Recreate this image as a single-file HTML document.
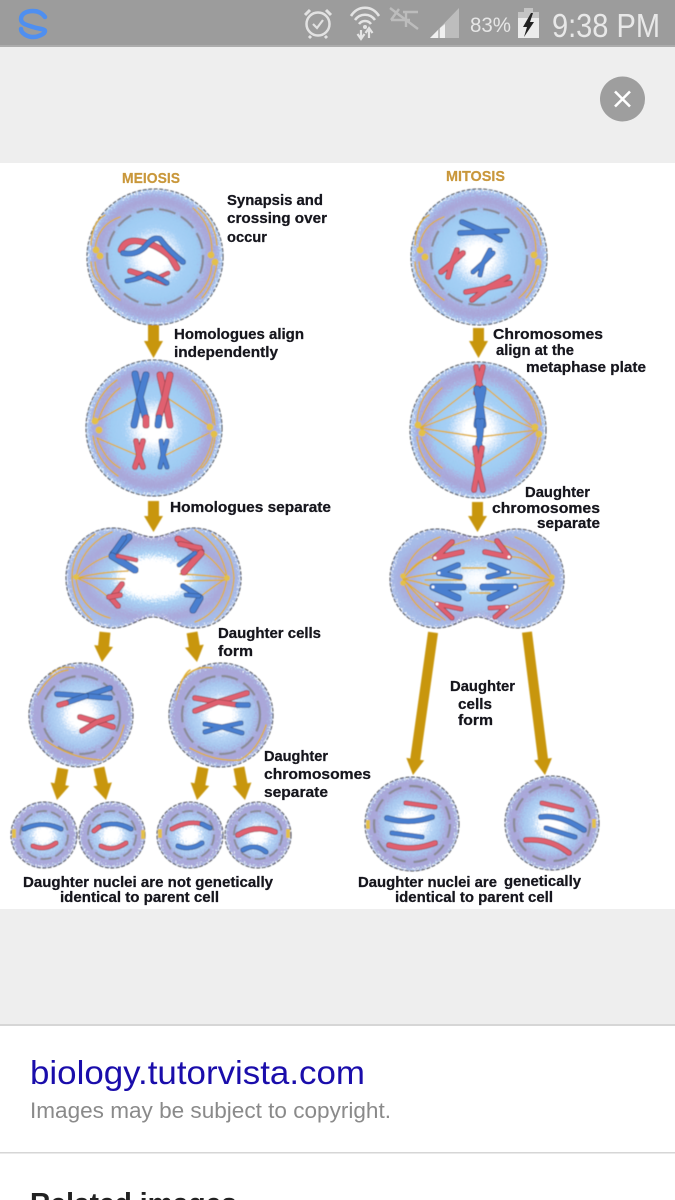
<!DOCTYPE html>
<html>
<head>
<meta charset="utf-8">
<style>
html,body{margin:0;padding:0;background:#fff}
body{width:675px;height:1200px;overflow:hidden;position:relative}
svg{position:absolute;left:0;top:0;display:block}
.t{font-family:"Liberation Sans",sans-serif;font-weight:bold;font-size:15px;fill:#14141c;stroke:#14141c;stroke-width:.25}
.g{font-family:"Liberation Sans",sans-serif;font-weight:bold;font-size:15px;fill:#c9973a;stroke:#c9973a;stroke-width:.2}
.w{fill:none;stroke:#8a8b96;stroke-width:2.2;stroke-dasharray:17 6}
.w2{fill:none;stroke:#8a8b96;stroke-width:1.9;stroke-dasharray:11 4}
.f{stroke:#e2ebf7;stroke-width:1;filter:url(#sp)}
.e{fill:none;stroke:#45454a;stroke-width:1;stroke-dasharray:4 1.5}
.s{fill:none;stroke:#dfae2f;stroke-width:1.4;stroke-linecap:round}
.r{fill:none;stroke:#e0606f;stroke-width:4.6;stroke-linecap:round;stroke-linejoin:round;filter:url(#ol)}
.b{fill:none;stroke:#4a7fd0;stroke-width:4.6;stroke-linecap:round;stroke-linejoin:round;filter:url(#ol)}
.rt{stroke-width:3.4}
.th{stroke-width:6}
.pole{fill:#e3c04a}
.arr{fill:#c8960b}
</style>
</head>
<body>
<svg width="675" height="1200" viewBox="0 0 675 1200" xmlns="http://www.w3.org/2000/svg">
<defs>
<radialGradient id="cell">
<stop offset="0" stop-color="#ffffff"/>
<stop offset=".2" stop-color="#ffffff"/>
<stop offset=".34" stop-color="#cfe4fa"/>
<stop offset=".43" stop-color="#a6d0f5"/>
<stop offset=".66" stop-color="#9ecbf2"/>
<stop offset=".74" stop-color="#aab2e2"/>
<stop offset=".84" stop-color="#a9a4d6"/>
<stop offset=".92" stop-color="#a8b2e4"/>
<stop offset="1" stop-color="#a8d4f6"/>
</radialGradient>
<radialGradient id="cell2">
<stop offset="0" stop-color="#ffffff"/>
<stop offset=".24" stop-color="#ffffff"/>
<stop offset=".42" stop-color="#b8d6f6"/>
<stop offset=".62" stop-color="#a6c6ee"/>
<stop offset=".76" stop-color="#aaa8da"/>
<stop offset=".92" stop-color="#a9a6d8"/>
<stop offset="1" stop-color="#a8cdf0"/>
</radialGradient>
<radialGradient id="db">
<stop offset="0" stop-color="#ffffff"/>
<stop offset=".38" stop-color="#ffffff"/>
<stop offset=".5" stop-color="#a9d2f5"/>
<stop offset=".62" stop-color="#a8c4ec"/>
<stop offset=".8" stop-color="#aaa7d9"/>
<stop offset="1" stop-color="#a6bce8"/>
</radialGradient>
<radialGradient id="db2">
<stop offset="0" stop-color="#ffffff"/>
<stop offset=".14" stop-color="#f2f8fe"/>
<stop offset=".34" stop-color="#a8d0f4"/>
<stop offset=".6" stop-color="#a6c4ec"/>
<stop offset=".82" stop-color="#aaa7d9"/>
<stop offset="1" stop-color="#a6bce8"/>
</radialGradient>
<filter id="soft" filterUnits="userSpaceOnUse" x="0" y="160" width="675" height="750"><feGaussianBlur stdDeviation="0.5"/></filter>
<filter id="softT" filterUnits="userSpaceOnUse" x="0" y="160" width="675" height="750"><feGaussianBlur stdDeviation="0.3"/></filter>
<filter id="sp" filterUnits="userSpaceOnUse" x="0" y="160" width="675" height="750" color-interpolation-filters="sRGB">
<feTurbulence type="fractalNoise" baseFrequency=".7" numOctaves="2" seed="3" result="n"/>
<feDisplacementMap in="SourceGraphic" in2="n" scale="16" xChannelSelector="R" yChannelSelector="G" result="d"/>
<feComposite in="d" in2="SourceAlpha" operator="in"/>
</filter>
<filter id="ol" filterUnits="userSpaceOnUse" x="0" y="160" width="675" height="750" color-interpolation-filters="sRGB">
<feMorphology in="SourceGraphic" operator="dilate" radius=".7" result="m"/>
<feColorMatrix in="m" type="matrix" values=".62 0 0 0 0 0 .62 0 0 0 0 0 .62 0 0 0 0 0 1 0" result="dk"/>
<feMerge><feMergeNode in="dk"/><feMergeNode in="SourceGraphic"/></feMerge>
</filter>
</defs>

<!-- page backgrounds -->
<rect x="0" y="0" width="675" height="1200" fill="#ffffff"/>
<rect x="0" y="47" width="675" height="116" fill="#eeeeee"/>
<rect x="0" y="909" width="675" height="116" fill="#eeeeee"/>
<rect x="0" y="0" width="675" height="46" fill="#9c9c9c"/>
<rect x="0" y="45" width="675" height="2" fill="#acacac"/>
<rect x="0" y="1024" width="675" height="2" fill="#d6d6d6"/>
<rect x="0" y="1152" width="675" height="1.5" fill="#d6d6d6"/>

<!-- status bar -->
<path d="M45 17 C42 13 38 11 33 11 C26 11 21 14 21 19 C21 24 27 25 33 27 C39 29 45 29 45 31 C45 34 38 37 33 37 C27 37 21 33 21 29" fill="none" stroke="#4f8ff0" stroke-width="4.500" stroke-linecap="round"/>
<circle cx="318" cy="24" r="11.500" fill="none" stroke="#e2e2e2" stroke-width="2.500"/>
<path d="M313 24 L317 28 L323 20" fill="none" stroke="#e2e2e2" stroke-width="2.200"/>
<path d="M305 15 L310 10 M331 15 L326 10 M311 36 L309 38 M325 36 L327 38" stroke="#e2e2e2" stroke-width="3" fill="none"/>
<path d="M351 16 C358 5 372 5 379 16 M355 20 C360 13 370 13 375 20 M359 24 C362 20 368 20 371 24" fill="none" stroke="#e4e4e4" stroke-width="2.600"/>
<circle cx="365" cy="27" r="2" fill="#e4e4e4"/>
<path d="M361 30 V37 M357.500 34 L361 39 L364.500 34 M369 38 V30 M365.500 33 L369 28 L372.500 33" fill="none" stroke="#e4e4e4" stroke-width="2.200"/>
<path d="M390 8 L418 29 M403 12 H418 M391 20 H410 M399 9 L391 20 M406 13 V27" fill="none" stroke="#bcbcbc" stroke-width="2.400"/>
<path d="M459 8 V38 H430 Z" fill="#bdbdbd"/>
<path d="M430 38 L438 30 V38 Z M440 28 L445 24 V38 H440 Z" fill="#f0f0f0"/>
<text x="470" y="32" font-family="'Liberation Sans',sans-serif" font-size="21" fill="#e6e6e6" textLength="41" lengthAdjust="spacingAndGlyphs">83%</text>
<rect x="524" y="8" width="9" height="4" fill="#c4c4c4"/>
<rect x="518" y="12" width="21" height="6" fill="#c4c4c4"/>
<rect x="518" y="18" width="21" height="20" fill="#ececec"/>
<path d="M531 13 L523 27 H527 L524 37 L534 22 H530 L533 13 Z" fill="#222"/>
<text x="552" y="37" font-family="'Liberation Sans',sans-serif" font-size="33" fill="#e8e8e8" textLength="108" lengthAdjust="spacingAndGlyphs">9:38 PM</text>

<!-- close -->
<circle cx="622.500" cy="99" r="22.500" fill="#9e9e9e"/>
<path d="M615 91.500 L630 106.500 M630 91.500 L615 106.500" stroke="#ffffff" stroke-width="2.600" fill="none"/>

<g filter="url(#soft)">
<!-- MEIOSIS 1 -->
<circle cx="155" cy="257" r="68" fill="url(#cell)" class="f"/><circle cx="155" cy="257" r="68" class="e"/>
<circle cx="155" cy="257" r="48" class="w"/>
<g class="s">
<path d="M95 250 Q97 225 120 217"/><path d="M91 245 Q92 222 105 215"/><path d="M95 262 Q97 285 120 300"/><path d="M91 262 Q92 280 105 285"/>
<path d="M212 252 Q212 225 193 208"/><path d="M217 245 Q215 222 198 208"/><path d="M212 265 Q210 285 195 298"/><path d="M217 262 Q215 282 202 298"/>
</g>
<circle cx="96" cy="250" r="3.500" class="pole"/><circle cx="100" cy="256" r="3.500" class="pole"/><circle cx="211" cy="255" r="3.500" class="pole"/><circle cx="215" cy="262" r="3.500" class="pole"/>
<path class="r" style="stroke-width:5.500" d="M121 250 Q125 240 137 241 Q155 243 170 256 L177 268"/>
<path class="b" d="M123 253 Q135 256 145 247 Q153 236 160 239 Q170 252 183 262"/>
<path class="r" d="M130 271 Q150 277 166 283"/><path class="r rt" d="M155 279 L168 273"/>
<path class="b" style="stroke-width:3.800" d="M127 281 Q140 279 148 273 Q158 277 167 283"/>

<!-- MEIOSIS 2 -->
<circle cx="154" cy="428" r="68" fill="url(#cell)" class="f"/><circle cx="154" cy="428" r="68" class="e"/>
<g class="s">
<path d="M95 422 L140 397"/><path d="M97 438 L137 455"/><path d="M211 427 L166 397"/><path d="M209 433 L166 455"/>
<path d="M93 420 Q96 395 117 380"/><path d="M98 421 Q106 398 120 388"/><path d="M93 436 Q97 462 118 476"/><path d="M97 438 Q105 460 120 468"/>
<path d="M213 423 Q210 395 192 380"/><path d="M215 425 Q213 400 205 390"/><path d="M213 437 Q208 462 192 476"/><path d="M215 438 Q212 458 202 468"/>
</g>
<circle cx="95" cy="421" r="3.500" class="pole"/><circle cx="99" cy="430" r="3.500" class="pole"/><circle cx="210" cy="427" r="3.500" class="pole"/><circle cx="214" cy="434" r="3.500" class="pole"/>
<path class="b th" d="M135 374 L140 397 L134 425"/><path class="b th" d="M146 375 L140 397 L145 416"/><path class="r th" d="M146 418 L146 425"/>
<path class="r th" d="M160 375 L165 397 L170 425"/><path class="r th" d="M170 375 L165 397 L159 416"/><path class="b th" d="M159 418 L158 425"/>
<path class="r" d="M136 441 L139 455 L135 467 M143 441 L139 455 L143 467"/>
<path class="b" style="stroke-width:3.800" d="M161 441 L163 455 L160 467 M167 441 L163 455 L167 467"/>

<!-- MEIOSIS dumbbell -->
<path d="M153 537 C140 537 130 528 113 528 C87 528 66 550 66 578 C66 606 87 628 113 628 C130 628 140 617 153 617 C166 617 177 628 194 628 C220 628 241 606 241 578 C241 550 220 528 194 528 C177 528 166 537 153 537 Z" fill="url(#db)" class="f"/>
<path d="M153 537 C140 537 130 528 113 528 C87 528 66 550 66 578 C66 606 87 628 113 628 C130 628 140 617 153 617 C166 617 177 628 194 628 C220 628 241 606 241 578 C241 550 220 528 194 528 C177 528 166 537 153 537 Z" class="e"/>
<g class="s">
<path d="M76 578 Q82 545 112 532"/><path d="M76 578 Q92 560 112 555"/><path d="M76 578 Q100 572 128 571"/><path d="M76 578 L125 579"/><path d="M76 578 Q95 585 108 597"/><path d="M76 578 Q80 610 110 618"/><path d="M72 578 Q72 550 95 534"/><path d="M72 578 Q74 605 92 620"/>
<path d="M227 578 Q222 545 195 530"/><path d="M227 578 Q215 560 202 552"/><path d="M227 578 Q205 575 180 574"/><path d="M227 580 L185 581"/><path d="M227 578 Q215 585 200 597"/><path d="M227 578 Q222 612 195 622"/><path d="M234 578 Q232 550 212 534"/><path d="M234 578 Q232 605 215 620"/>
</g>
<circle cx="76" cy="577" r="3" class="pole"/><circle cx="227" cy="578" r="3" class="pole"/>
<path class="b th" d="M113 554 L129 537"/><path class="b" d="M112 555 L124 538"/><path class="b th" d="M112 556 L135 570"/><path class="r rt" d="M118 556 L136 560"/>
<path class="r" d="M112 597 L122 584"/><path class="r" d="M110 597 L118 606"/><path class="r" d="M109 597 L120 595"/>
<path class="r th" d="M201 552 L178 539"/><path class="r" d="M200 548 L180 544"/><path class="r th" d="M201 553 L184 572"/><path class="b rt" d="M195 553 L179 565"/>
<path class="b" d="M200 597 L183 586"/><path class="b th" d="M200 598 L193 610"/><path class="b rt" d="M199 596 L186 595"/>

<!-- Meiosis daughters -->
<circle cx="81" cy="715" r="52" fill="url(#cell2)" class="f"/><circle cx="81" cy="715" r="52" class="e"/>
<circle cx="81" cy="715" r="39" class="w"/>
<g class="s">
<path d="M100 760 Q70 758 45 740"/><path d="M102 760 Q118 750 124 725"/><path d="M68 670 Q50 672 38 695"/><path d="M74 668 Q60 665 50 675"/>
</g>
<path class="b" d="M57 694 L86 696 L110 688"/><path class="b" d="M86 696 L110 698"/><path class="b" d="M86 696 L66 703"/><path class="r" d="M66 703 L59 705"/>
<path class="r" d="M80 717 L97 722 L113 727"/><path class="r" d="M82 731 L97 722 L112 717"/>

<circle cx="221" cy="715" r="52" fill="url(#cell2)" class="f"/><circle cx="221" cy="715" r="52" class="e"/>
<circle cx="221" cy="715" r="39" class="w"/>
<g class="s">
<path d="M240 760 Q215 762 190 748"/><path d="M240 760 Q258 750 266 725"/><path d="M190 670 Q182 675 176 700"/><path d="M212 668 Q195 665 182 680"/>
</g>
<path class="r" d="M195 698 L218 702 L247 693"/><path class="r" d="M195 711 L218 702 L238 705"/><path class="b" d="M238 705 L248 705"/>
<path class="b" style="stroke-width:3.800" d="M205 724 L222 727 L241 723 M205 732 L222 727 L242 733"/>

<!-- small cells -->
<circle cx="44" cy="835" r="33" fill="url(#cell2)" class="f"/><circle cx="44" cy="835" r="33" class="e"/><circle cx="44" cy="835" r="24" class="w2"/>
<path class="b" style="stroke-width:3.800" d="M24 829 Q43 820 61 829"/><path class="r" style="stroke-width:3.800" d="M33 846 Q45 851 56 843"/>
<rect x="12" y="829" width="4" height="9" fill="#e3c04a"/>
<circle cx="112" cy="835" r="33" fill="url(#cell2)" class="f"/><circle cx="112" cy="835" r="33" class="e"/><circle cx="112" cy="835" r="24" class="w2"/>
<path class="b" style="stroke-width:3.800" d="M99 827 Q115 820 131 829"/><path class="r" style="stroke-width:3.800" d="M94 831 L99 827"/><path class="r" style="stroke-width:3.800" d="M101 846 Q113 852 126 843"/>
<rect x="141" y="830" width="4" height="9" fill="#e3c04a"/>
<circle cx="190" cy="835" r="33" fill="url(#cell2)" class="f"/><circle cx="190" cy="835" r="33" class="e"/><circle cx="190" cy="835" r="24" class="w2"/>
<path class="r" style="stroke-width:3.800" d="M172 829 Q188 820 202 824"/><path class="b" style="stroke-width:3.800" d="M202 824 L210 828"/><path class="b" style="stroke-width:3.800" d="M178 846 Q190 851 202 843"/>
<rect x="158" y="829" width="4" height="9" fill="#e3c04a"/>
<circle cx="258" cy="835" r="33" fill="url(#cell2)" class="f"/><circle cx="258" cy="835" r="33" class="e"/><circle cx="258" cy="835" r="24" class="w2"/>
<path class="r" d="M238 835 Q256 824 275 832"/><path class="b" style="stroke-width:3.800" d="M243 850 Q255 843 266 852"/>
<rect x="286" y="829" width="4" height="9" fill="#e3c04a"/>

<!-- MITOSIS 1 -->
<circle cx="479" cy="257" r="68" fill="url(#cell)" class="f"/><circle cx="479" cy="257" r="68" class="e"/>
<circle cx="479" cy="257" r="48" class="w"/>
<g class="s">
<path d="M419 250 Q421 225 444 217"/><path d="M415 245 Q416 222 429 215"/><path d="M419 262 Q421 285 444 300"/><path d="M415 262 Q416 280 429 285"/>
<path d="M536 252 Q536 225 517 208"/><path d="M541 245 Q539 222 522 208"/><path d="M536 265 Q534 285 519 298"/><path d="M541 262 Q539 282 526 298"/>
</g>
<circle cx="420" cy="250" r="3.500" class="pole"/><circle cx="425" cy="257" r="3.500" class="pole"/><circle cx="534" cy="255" r="3.500" class="pole"/><circle cx="538" cy="262" r="3.500" class="pole"/>
<path class="b" d="M462 222 L485 232 L507 231 M460 233 L485 232 L500 240"/>
<path class="r" d="M463 253 L452 263 L441 272 M457 250 L452 263 L448 277"/>
<path class="b" style="stroke-width:3.800" d="M493 253 L483 263 L473 272 M490 250 L483 263 L480 275"/>
<path class="r" d="M508 277 L487 288 L466 292 M510 283 L487 288 L472 300"/>

<!-- MITOSIS 2 -->
<circle cx="478" cy="430" r="68" fill="url(#cell)" class="f"/><circle cx="478" cy="430" r="68" class="e"/>
<g class="s">
<path d="M420 428 L479 382"/><path d="M420 428 L480 405"/><path d="M420 428 L479 437"/><path d="M420 428 L478 468"/><path d="M537 430 L479 382"/><path d="M537 430 L480 405"/><path d="M537 430 L479 437"/><path d="M537 430 L478 468"/>
<path d="M417 422 Q419 395 440 380"/><path d="M421 420 Q428 400 442 388"/><path d="M417 437 Q420 462 440 476"/><path d="M421 438 Q430 460 442 468"/>
<path d="M538 422 Q534 395 516 380"/><path d="M541 425 Q538 400 525 390"/><path d="M538 437 Q534 462 516 476"/><path d="M541 438 Q536 458 524 468"/>
</g>
<circle cx="418" cy="425" r="3.500" class="pole"/><circle cx="422" cy="433" r="3.500" class="pole"/><circle cx="535" cy="427" r="3.500" class="pole"/><circle cx="539" cy="434" r="3.500" class="pole"/>
<path class="r" d="M476 367 L479 382 L483 367 M476 393 L479 382 L483 393"/>
<path class="b th" d="M477 389 L480 405 L483 389 M477 425 L480 405 L483 425"/>
<path class="b" d="M478 421 L480 440 M482 421 L480 440 M476 456 L479 440 M481 456 L479 440"/>
<path class="r" d="M475 448 L478 468 L482 448 M474 490 L478 468 L483 490"/>

<!-- MITOSIS dumbbell -->
<path d="M477 537 C464 537 454 529 437 529 C411 529 390 551 390 579 C390 606 411 628 437 628 C454 628 464 617 477 617 C490 617 500 628 517 628 C543 628 564 606 564 579 C564 551 543 529 517 529 C500 529 490 537 477 537 Z" fill="url(#db2)" class="f"/>
<path d="M477 537 C464 537 454 529 437 529 C411 529 390 551 390 579 C390 606 411 628 437 628 C454 628 464 617 477 617 C490 617 500 628 517 628 C543 628 564 606 564 579 C564 551 543 529 517 529 C500 529 490 537 477 537 Z" class="e"/>
<g class="s">
<path d="M403 579 Q420 555 435 558"/><path d="M403 579 Q420 575 439 573"/><path d="M403 579 Q420 582 433 587"/><path d="M403 579 Q420 595 437 604"/><path d="M403 579 Q410 548 440 537"/><path d="M403 579 Q412 610 440 620"/><path d="M403 579 Q425 552 470 540"/><path d="M403 579 Q425 605 445 620"/>
<path d="M552 580 Q530 555 509 557"/><path d="M552 580 Q530 575 508 572"/><path d="M552 580 Q535 582 515 587"/><path d="M552 580 Q535 595 507 607"/><path d="M552 580 Q545 548 515 537"/><path d="M552 580 Q545 610 515 620"/><path d="M552 580 Q530 550 485 540"/><path d="M552 580 Q530 608 510 618"/>
<path d="M462 568 H486 M470 593 H490 M425 580 H462 M490 578 H530"/>
</g>
<circle cx="403" cy="576" r="2.800" class="pole"/><circle cx="403" cy="583" r="2.800" class="pole"/><circle cx="552" cy="577" r="2.800" class="pole"/><circle cx="552" cy="584" r="2.800" class="pole"/>
<path class="r" d="M452 542 L435 558 L462 552"/>
<path class="b" d="M458 565 L439 573 L460 577"/>
<path class="b th" d="M463 587 L433 587 L458 598"/>
<path class="r" style="stroke-width:3.800" d="M461 609 L437 604 L452 618"/>
<path class="r" d="M497 541 L509 557 L485 552"/>
<path class="b" d="M490 565 L508 572 L488 577"/>
<path class="b th" d="M483 587 L515 587 L490 598"/>
<path class="r" style="stroke-width:3.800" d="M490 608 L507 607 L495 617"/>
<g fill="#fff"><circle cx="435" cy="558" r="1.500"/><circle cx="439" cy="573" r="1.500"/><circle cx="433" cy="587" r="1.500"/><circle cx="437" cy="604" r="1.500"/><circle cx="509" cy="557" r="1.500"/><circle cx="508" cy="572" r="1.500"/><circle cx="515" cy="587" r="1.500"/><circle cx="507" cy="607" r="1.500"/></g>

<!-- Mitosis daughters -->
<circle cx="412" cy="824" r="47" fill="url(#cell2)" class="f"/><circle cx="412" cy="824" r="47" class="e"/>
<circle cx="412" cy="824" r="38" class="w" style="stroke-dasharray:14 8"/>
<path class="r" style="stroke-width:3.800" d="M406 803 L435 807"/>
<path class="b" d="M387 818 Q410 825 432 817"/>
<path class="b" style="stroke-width:3.800" d="M392 833 L422 837"/>
<path class="r" d="M389 845 Q412 852 435 843"/>
<rect x="366" y="820" width="4" height="9" fill="#e3c04a"/>
<circle cx="552" cy="823" r="47" fill="url(#cell2)" class="f"/><circle cx="552" cy="823" r="47" class="e"/>
<circle cx="552" cy="823" r="38" class="w" style="stroke-dasharray:14 8"/>
<path class="r" style="stroke-width:3.800" d="M542 803 L572 810"/>
<path class="b" d="M541 817 Q560 814 584 830"/>
<path class="b" style="stroke-width:3.800" d="M546 828 L575 837"/>
<path class="r" d="M526 840 Q550 838 569 853"/>
<rect x="592" y="819" width="4" height="9" fill="#e3c04a"/>

<!-- Arrows -->
<g class="arr">
<polygon points="153.500,358 144,341 148,341 148,325 159,325 159,341 163,341"/>
<polygon points="153.500,532 144,516 148,516 148,501 159,501 159,516 163,516"/>
<g transform="translate(102 662) rotate(5.700)"><polygon points="0,0 -9.500,-16 -5.500,-16 -5.500,-30 5.500,-30 5.500,-16 9.500,-16"/></g>
<g transform="translate(197 662) rotate(-9.500)"><polygon points="0,0 -9.500,-16 -5.500,-16 -5.500,-30 5.500,-30 5.500,-16 9.500,-16"/></g>
<g transform="translate(57 800) rotate(10.600)"><polygon points="0,0 -9.500,-16 -5.500,-16 -5.500,-32 5.500,-32 5.500,-16 9.500,-16"/></g>
<g transform="translate(106 800) rotate(-12.300)"><polygon points="0,0 -9.500,-16 -5.500,-16 -5.500,-33 5.500,-33 5.500,-16 9.500,-16"/></g>
<g transform="translate(197 800) rotate(10.600)"><polygon points="0,0 -9.500,-16 -5.500,-16 -5.500,-33 5.500,-33 5.500,-16 9.500,-16"/></g>
<g transform="translate(245 800) rotate(-10.600)"><polygon points="0,0 -9.500,-16 -5.500,-16 -5.500,-33 5.500,-33 5.500,-16 9.500,-16"/></g>
<polygon points="478.500,358 469,341 473,341 473,328 484,328 484,341 488,341"/>
<polygon points="477.500,532 468,516 472,516 472,502 483,502 483,516 487,516"/>
<g transform="translate(413 775) rotate(8)"><polygon points="0,0 -9,-16 -5,-16 -5,-144 5,-144 5,-16 9,-16"/></g>
<g transform="translate(545 775) rotate(-7.200)"><polygon points="0,0 -9,-16 -5,-16 -5,-144 5,-144 5,-16 9,-16"/></g>
</g>
</g>

<!-- Diagram labels -->
<g filter="url(#softT)">
<text class="g" x="122" y="183" textLength="58" lengthAdjust="spacingAndGlyphs">MEIOSIS</text>
<text class="g" x="446" y="181" textLength="59" lengthAdjust="spacingAndGlyphs">MITOSIS</text>
<text class="t" x="227" y="205" textLength="96" lengthAdjust="spacingAndGlyphs">Synapsis and</text>
<text class="t" x="227" y="223" textLength="100" lengthAdjust="spacingAndGlyphs">crossing over</text>
<text class="t" x="227" y="242" textLength="40" lengthAdjust="spacingAndGlyphs">occur</text>
<text class="t" x="174" y="339" textLength="130" lengthAdjust="spacingAndGlyphs">Homologues align</text>
<text class="t" x="174" y="357" textLength="104" lengthAdjust="spacingAndGlyphs">independently</text>
<text class="t" x="170" y="512" textLength="161" lengthAdjust="spacingAndGlyphs">Homologues separate</text>
<text class="t" x="218" y="638" textLength="103" lengthAdjust="spacingAndGlyphs">Daughter cells</text>
<text class="t" x="218" y="656" textLength="35" lengthAdjust="spacingAndGlyphs">form</text>
<text class="t" x="264" y="761" textLength="64" lengthAdjust="spacingAndGlyphs">Daughter</text>
<text class="t" x="264" y="779" textLength="107" lengthAdjust="spacingAndGlyphs">chromosomes</text>
<text class="t" x="264" y="797" textLength="64" lengthAdjust="spacingAndGlyphs">separate</text>
<text class="t" x="23" y="887" textLength="250" lengthAdjust="spacingAndGlyphs">Daughter nuclei are not genetically</text>
<text class="t" x="60" y="902" textLength="159" lengthAdjust="spacingAndGlyphs">identical to parent cell</text>
<text class="t" x="493" y="339" textLength="110" lengthAdjust="spacingAndGlyphs">Chromosomes</text>
<text class="t" x="496" y="355" textLength="78" lengthAdjust="spacingAndGlyphs">align at the</text>
<text class="t" x="526" y="372" textLength="120" lengthAdjust="spacingAndGlyphs">metaphase plate</text>
<text class="t" x="525" y="497" textLength="65" lengthAdjust="spacingAndGlyphs">Daughter</text>
<text class="t" x="492" y="513" textLength="108" lengthAdjust="spacingAndGlyphs">chromosomes</text>
<text class="t" x="537" y="528" textLength="63" lengthAdjust="spacingAndGlyphs">separate</text>
<text class="t" x="450" y="691" textLength="65" lengthAdjust="spacingAndGlyphs">Daughter</text>
<text class="t" x="458" y="709" textLength="34" lengthAdjust="spacingAndGlyphs">cells</text>
<text class="t" x="458" y="725" textLength="35" lengthAdjust="spacingAndGlyphs">form</text>
<text class="t" x="358" y="887" textLength="139" lengthAdjust="spacingAndGlyphs">Daughter nuclei are</text>
<text class="t" x="504" y="886" textLength="77" lengthAdjust="spacingAndGlyphs">genetically</text>
<text class="t" x="395" y="902" textLength="158" lengthAdjust="spacingAndGlyphs">identical to parent cell</text>
</g>

<!-- Footer -->
<text x="30" y="1084" font-family="'Liberation Sans',sans-serif" font-size="33" fill="#1a0dab" textLength="335" lengthAdjust="spacingAndGlyphs">biology.tutorvista.com</text>
<text x="30" y="1118" font-family="'Liberation Sans',sans-serif" font-size="22" fill="#8a8a8a" textLength="361" lengthAdjust="spacingAndGlyphs">Images may be subject to copyright.</text>
<text x="30" y="1213" font-family="'Liberation Sans',sans-serif" font-size="29" font-weight="bold" fill="#222222" textLength="207" lengthAdjust="spacingAndGlyphs">Related images</text>
</svg>
</body>
</html>
